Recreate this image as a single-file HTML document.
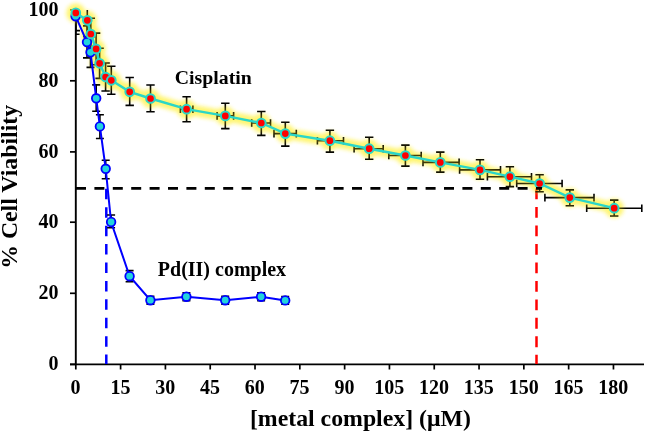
<!DOCTYPE html><html><head><meta charset="utf-8"><style>
html,body{margin:0;padding:0;background:#fff;}
body{width:645px;height:433px;overflow:hidden;position:relative;}
svg{position:absolute;left:0;top:0;will-change:transform;}
text{font-family:"Liberation Serif",serif;font-weight:bold;fill:#000;}
</style></head><body>
<svg width="645" height="433" viewBox="0 0 645 433">
<defs><filter id="glow" x="-20%" y="-20%" width="140%" height="140%"><feGaussianBlur stdDeviation="2"/></filter>
<clipPath id="pa"><rect x="75.8" y="9.9" width="569.2" height="354.5"/></clipPath></defs>
<g stroke="#000" stroke-width="1.7" fill="none">
<line x1="75.8" y1="9.2" x2="75.8" y2="364.4" stroke-width="1.9"/>
<line x1="70" y1="364.4" x2="644" y2="364.4"/>
<line x1="70" y1="364.4" x2="75.8" y2="364.4"/>
<line x1="70" y1="293.3" x2="75.8" y2="293.3"/>
<line x1="70" y1="222.2" x2="75.8" y2="222.2"/>
<line x1="70" y1="151.9" x2="75.8" y2="151.9"/>
<line x1="70" y1="80.8" x2="75.8" y2="80.8"/>
<line x1="70" y1="9.9" x2="75.8" y2="9.9"/>
<line x1="75.8" y1="364.4" x2="75.8" y2="369.5"/>
<line x1="120.6" y1="364.4" x2="120.6" y2="369.5"/>
<line x1="165.41" y1="364.4" x2="165.41" y2="369.5"/>
<line x1="210.21" y1="364.4" x2="210.21" y2="369.5"/>
<line x1="255.02" y1="364.4" x2="255.02" y2="369.5"/>
<line x1="299.82" y1="364.4" x2="299.82" y2="369.5"/>
<line x1="344.63" y1="364.4" x2="344.63" y2="369.5"/>
<line x1="389.44" y1="364.4" x2="389.44" y2="369.5"/>
<line x1="434.24" y1="364.4" x2="434.24" y2="369.5"/>
<line x1="479.05" y1="364.4" x2="479.05" y2="369.5"/>
<line x1="523.85" y1="364.4" x2="523.85" y2="369.5"/>
<line x1="568.65" y1="364.4" x2="568.65" y2="369.5"/>
<line x1="613.46" y1="364.4" x2="613.46" y2="369.5"/>
</g>
<g font-size="20" text-anchor="end">
<text x="58.5" y="370.1">0</text>
<text x="58.5" y="299">20</text>
<text x="58.5" y="227.9">40</text>
<text x="58.5" y="157.6">60</text>
<text x="58.5" y="86.5">80</text>
<text x="58.5" y="15.6">100</text>
</g>
<g font-size="20" text-anchor="middle">
<text x="75.6" y="393.5">0</text>
<text x="120.4" y="393.5">15</text>
<text x="165.21" y="393.5">30</text>
<text x="210.01" y="393.5">45</text>
<text x="254.82" y="393.5">60</text>
<text x="299.62" y="393.5">75</text>
<text x="344.43" y="393.5">90</text>
<text x="389.24" y="393.5">105</text>
<text x="434.04" y="393.5">120</text>
<text x="478.85" y="393.5">135</text>
<text x="523.65" y="393.5">150</text>
<text x="568.45" y="393.5">165</text>
<text x="613.26" y="393.5">180</text>
</g>
<text x="360.4" y="425.8" font-size="23.8" text-anchor="middle">[metal complex] (&#956;M)</text>
<text transform="translate(17.3,186.9) rotate(-90)" font-size="23.8" text-anchor="middle">% Cell Viability</text>
<line x1="106.3" y1="188.8" x2="106.3" y2="364" stroke="#0000ff" stroke-width="2.5" stroke-dasharray="10.5 7.92"/>
<line x1="536.5" y1="188.5" x2="536.5" y2="364" stroke="#ff0000" stroke-width="2.5" stroke-dasharray="10.8 7.68"/>
<g filter="url(#glow)" opacity="0.5">
<polyline fill="none" stroke="#fff020" stroke-width="10" stroke-linejoin="round" stroke-linecap="round" points="75.8,12.9 87.3,20.3 90.8,34 96.1,48.9 99.6,63.3 105.6,77 111.3,80.3 129.7,91.8 150.5,98.5 186.6,109.2 225.3,115.9 261.3,123 285.3,133.6 329.9,140.7 369.2,148.7 405.4,155.5 440.3,162.4 480,169.9 509.9,176.7 539.6,183.5 569.8,197.6 614.2,208.2"/>
<circle cx="75.8" cy="12.9" r="9.2" fill="#fff020"/>
<circle cx="87.3" cy="20.3" r="9.2" fill="#fff020"/>
<circle cx="90.8" cy="34" r="9.2" fill="#fff020"/>
<circle cx="96.1" cy="48.9" r="9.2" fill="#fff020"/>
<circle cx="99.6" cy="63.3" r="9.2" fill="#fff020"/>
<circle cx="105.6" cy="77" r="9.2" fill="#fff020"/>
<circle cx="111.3" cy="80.3" r="9.2" fill="#fff020"/>
<circle cx="129.7" cy="91.8" r="9.2" fill="#fff020"/>
<circle cx="150.5" cy="98.5" r="9.2" fill="#fff020"/>
<circle cx="186.6" cy="109.2" r="9.2" fill="#fff020"/>
<circle cx="225.3" cy="115.9" r="9.2" fill="#fff020"/>
<circle cx="261.3" cy="123" r="9.2" fill="#fff020"/>
<circle cx="285.3" cy="133.6" r="9.2" fill="#fff020"/>
<circle cx="329.9" cy="140.7" r="9.2" fill="#fff020"/>
<circle cx="369.2" cy="148.7" r="9.2" fill="#fff020"/>
<circle cx="405.4" cy="155.5" r="9.2" fill="#fff020"/>
<circle cx="440.3" cy="162.4" r="9.2" fill="#fff020"/>
<circle cx="480" cy="169.9" r="9.2" fill="#fff020"/>
<circle cx="509.9" cy="176.7" r="9.2" fill="#fff020"/>
<circle cx="539.6" cy="183.5" r="9.2" fill="#fff020"/>
<circle cx="569.8" cy="197.6" r="9.2" fill="#fff020"/>
<circle cx="614.2" cy="208.2" r="9.2" fill="#fff020"/>
</g>
<g stroke="#000" stroke-width="1.6" fill="none" clip-path="url(#pa)">
<path d="M75.8 -4.8V30.6M71.6 -4.8h8.4M71.6 30.6h8.4"/>
<path d="M87.3 4V36.6M83.1 4h8.4M83.1 36.6h8.4"/>
<path d="M90.8 18.3V49.7M86.6 18.3h8.4M86.6 49.7h8.4"/>
<path d="M96.1 33.1V64.7M91.9 33.1h8.4M91.9 64.7h8.4"/>
<path d="M99.6 48.2V78.4M95.4 48.2h8.4M95.4 78.4h8.4"/>
<path d="M105.6 63V91M101.4 63h8.4M101.4 91h8.4"/>
<path d="M111.3 66.3V94.3M107.1 66.3h8.4M107.1 94.3h8.4"/>
<path d="M129.7 77.5V105.4M125.5 77.5h8.4M125.5 105.4h8.4"/>
<path d="M150.5 85V111.7M146.3 85h8.4M146.3 111.7h8.4"/>
<path d="M186.6 96.8V121.7M182.4 96.8h8.4M182.4 121.7h8.4"/>
<path d="M180.4 109.2H192.9M180.4 105.4v7.6M192.9 105.4v7.6"/>
<path d="M225.3 103.3V128.6M221.1 103.3h8.4M221.1 128.6h8.4"/>
<path d="M217.1 115.9H233.6M217.1 112.1v7.6M233.6 112.1v7.6"/>
<path d="M261.3 111.5V135.4M257.1 111.5h8.4M257.1 135.4h8.4"/>
<path d="M251.7 123H270.5M251.7 119.2v7.6M270.5 119.2v7.6"/>
<path d="M285.3 122.2V146.1M281.1 122.2h8.4M281.1 146.1h8.4"/>
<path d="M274 133.6H296.3M274 129.8v7.6M296.3 129.8v7.6"/>
<path d="M329.9 130.3V152.1M325.7 130.3h8.4M325.7 152.1h8.4"/>
<path d="M317.4 140.7H343.5M317.4 136.9v7.6M343.5 136.9v7.6"/>
<path d="M369.2 137.2V159.2M365 137.2h8.4M365 159.2h8.4"/>
<path d="M354.1 148.7H383.2M354.1 144.9v7.6M383.2 144.9v7.6"/>
<path d="M405.4 145.1V166.1M401.2 145.1h8.4M401.2 166.1h8.4"/>
<path d="M388.8 155.5H421.2M388.8 151.7v7.6M421.2 151.7v7.6"/>
<path d="M440.3 152.1V172.1M436.1 152.1h8.4M436.1 172.1h8.4"/>
<path d="M423 162.4H459.1M423 158.6v7.6M459.1 158.6v7.6"/>
<path d="M480 159.7V179.3M475.8 159.7h8.4M475.8 179.3h8.4"/>
<path d="M459.6 169.9H500.5M459.6 166.1v7.6M500.5 166.1v7.6"/>
<path d="M509.9 166.8V186.6M505.7 166.8h8.4M505.7 186.6h8.4"/>
<path d="M487.4 176.7H531.5M487.4 172.9v7.6M531.5 172.9v7.6"/>
<path d="M539.6 174.8V191.8M535.4 174.8h8.4M535.4 191.8h8.4"/>
<path d="M516.7 183.5H562.1M516.7 179.7v7.6M562.1 179.7v7.6"/>
<path d="M569.8 189.9V205.8M565.6 189.9h8.4M565.6 205.8h8.4"/>
<path d="M544.9 197.6H594M544.9 193.8v7.6M594 193.8v7.6"/>
<path d="M614.2 200.1V216M610 200.1h8.4M610 216h8.4"/>
<path d="M586.7 208.2H641.8M586.7 204.4v7.6M641.8 204.4v7.6"/>
</g>
<g stroke="#000" stroke-width="1.6" fill="none" clip-path="url(#pa)">
<path d="M75.6 -1.6V34.3M71.6 -1.6h8M71.6 34.3h8"/>
<path d="M87 25.9V57.9M83 25.9h8M83 57.9h8"/>
<path d="M90.5 37.2V67.4M86.5 37.2h8M86.5 67.4h8"/>
<path d="M96.2 84.9V111.2M92.2 84.9h8M92.2 111.2h8"/>
<path d="M99.9 114.8V138.5M95.9 114.8h8M95.9 138.5h8"/>
<path d="M105.7 160.3V178.8M101.7 160.3h8M101.7 178.8h8"/>
<path d="M111.1 215V227.7M107.1 215h8M107.1 227.7h8"/>
<path d="M129.6 270.6V281.8M125.6 270.6h8M125.6 281.8h8"/>
<path d="M150.4 296.3V304.1M146.4 296.3h8M146.4 304.1h8"/>
<path d="M186.4 292.8V300.6M182.4 292.8h8M182.4 300.6h8"/>
<path d="M225.2 296.3V304.1M221.2 296.3h8M221.2 304.1h8"/>
<path d="M261.1 292.8V300.6M257.1 292.8h8M257.1 300.6h8"/>
<path d="M285.2 296.5V304.3M281.2 296.5h8M281.2 304.3h8"/>
</g>
<g filter="url(#glow)" opacity="0.3">
<polyline fill="none" stroke="#fff020" stroke-width="10" stroke-linejoin="round" stroke-linecap="round" points="75.8,12.9 87.3,20.3 90.8,34 96.1,48.9 99.6,63.3 105.6,77 111.3,80.3 129.7,91.8 150.5,98.5 186.6,109.2 225.3,115.9 261.3,123 285.3,133.6 329.9,140.7 369.2,148.7 405.4,155.5 440.3,162.4 480,169.9 509.9,176.7 539.6,183.5 569.8,197.6 614.2,208.2"/>
<circle cx="75.8" cy="12.9" r="9.2" fill="#fff020"/>
<circle cx="87.3" cy="20.3" r="9.2" fill="#fff020"/>
<circle cx="90.8" cy="34" r="9.2" fill="#fff020"/>
<circle cx="96.1" cy="48.9" r="9.2" fill="#fff020"/>
<circle cx="99.6" cy="63.3" r="9.2" fill="#fff020"/>
<circle cx="105.6" cy="77" r="9.2" fill="#fff020"/>
<circle cx="111.3" cy="80.3" r="9.2" fill="#fff020"/>
<circle cx="129.7" cy="91.8" r="9.2" fill="#fff020"/>
<circle cx="150.5" cy="98.5" r="9.2" fill="#fff020"/>
<circle cx="186.6" cy="109.2" r="9.2" fill="#fff020"/>
<circle cx="225.3" cy="115.9" r="9.2" fill="#fff020"/>
<circle cx="261.3" cy="123" r="9.2" fill="#fff020"/>
<circle cx="285.3" cy="133.6" r="9.2" fill="#fff020"/>
<circle cx="329.9" cy="140.7" r="9.2" fill="#fff020"/>
<circle cx="369.2" cy="148.7" r="9.2" fill="#fff020"/>
<circle cx="405.4" cy="155.5" r="9.2" fill="#fff020"/>
<circle cx="440.3" cy="162.4" r="9.2" fill="#fff020"/>
<circle cx="480" cy="169.9" r="9.2" fill="#fff020"/>
<circle cx="509.9" cy="176.7" r="9.2" fill="#fff020"/>
<circle cx="539.6" cy="183.5" r="9.2" fill="#fff020"/>
<circle cx="569.8" cy="197.6" r="9.2" fill="#fff020"/>
<circle cx="614.2" cy="208.2" r="9.2" fill="#fff020"/>
</g>
<polyline fill="none" stroke="#0000ff" stroke-width="2" points="75.6,16.2 87,42.1 90.5,52.3 96.2,98.3 99.9,126.4 105.7,168.8 111.1,222 129.6,276.2 150.4,300.2 186.4,296.7 225.2,300.2 261.1,296.7 285.2,300.4"/>
<g fill="#22d4dc" stroke="#0000ff" stroke-width="1.8">
<circle cx="75.6" cy="16.2" r="4.3"/>
<circle cx="87" cy="42.1" r="4.3"/>
<circle cx="90.5" cy="52.3" r="4.3"/>
<circle cx="96.2" cy="98.3" r="4.3"/>
<circle cx="99.9" cy="126.4" r="4.3"/>
<circle cx="105.7" cy="168.8" r="4.3"/>
<circle cx="111.1" cy="222" r="4.3"/>
<circle cx="129.6" cy="276.2" r="4.3"/>
<circle cx="150.4" cy="300.2" r="4.3"/>
<circle cx="186.4" cy="296.7" r="4.3"/>
<circle cx="225.2" cy="300.2" r="4.3"/>
<circle cx="261.1" cy="296.7" r="4.3"/>
<circle cx="285.2" cy="300.4" r="4.3"/>
</g>
<polyline fill="none" stroke="#2ad6c8" stroke-width="2.4" points="75.8,12.9 87.3,20.3 90.8,34 96.1,48.9 99.6,63.3 105.6,77 111.3,80.3 129.7,91.8 150.5,98.5 186.6,109.2 225.3,115.9 261.3,123 285.3,133.6 329.9,140.7 369.2,148.7 405.4,155.5 440.3,162.4 480,169.9 509.9,176.7 539.6,183.5 569.8,197.6 614.2,208.2"/>
<g fill="#ff0000" stroke="#2ad6c8" stroke-width="2">
<circle cx="75.8" cy="12.9" r="4.35"/>
<circle cx="87.3" cy="20.3" r="4.35"/>
<circle cx="90.8" cy="34" r="4.35"/>
<circle cx="96.1" cy="48.9" r="4.35"/>
<circle cx="99.6" cy="63.3" r="4.35"/>
<circle cx="105.6" cy="77" r="4.35"/>
<circle cx="111.3" cy="80.3" r="4.35"/>
<circle cx="129.7" cy="91.8" r="4.35"/>
<circle cx="150.5" cy="98.5" r="4.35"/>
<circle cx="186.6" cy="109.2" r="4.35"/>
<circle cx="225.3" cy="115.9" r="4.35"/>
<circle cx="261.3" cy="123" r="4.35"/>
<circle cx="285.3" cy="133.6" r="4.35"/>
<circle cx="329.9" cy="140.7" r="4.35"/>
<circle cx="369.2" cy="148.7" r="4.35"/>
<circle cx="405.4" cy="155.5" r="4.35"/>
<circle cx="440.3" cy="162.4" r="4.35"/>
<circle cx="480" cy="169.9" r="4.35"/>
<circle cx="509.9" cy="176.7" r="4.35"/>
<circle cx="539.6" cy="183.5" r="4.35"/>
<circle cx="569.8" cy="197.6" r="4.35"/>
<circle cx="614.2" cy="208.2" r="4.35"/>
</g>
<line x1="76" y1="188.4" x2="542" y2="188.4" stroke="#000" stroke-width="2.6" stroke-dasharray="10 8.4"/>
<text x="174.8" y="84.1" font-size="19.8">Cisplatin</text>
<text x="157.8" y="276.1" font-size="20">Pd(II) complex</text>
</svg></body></html>
